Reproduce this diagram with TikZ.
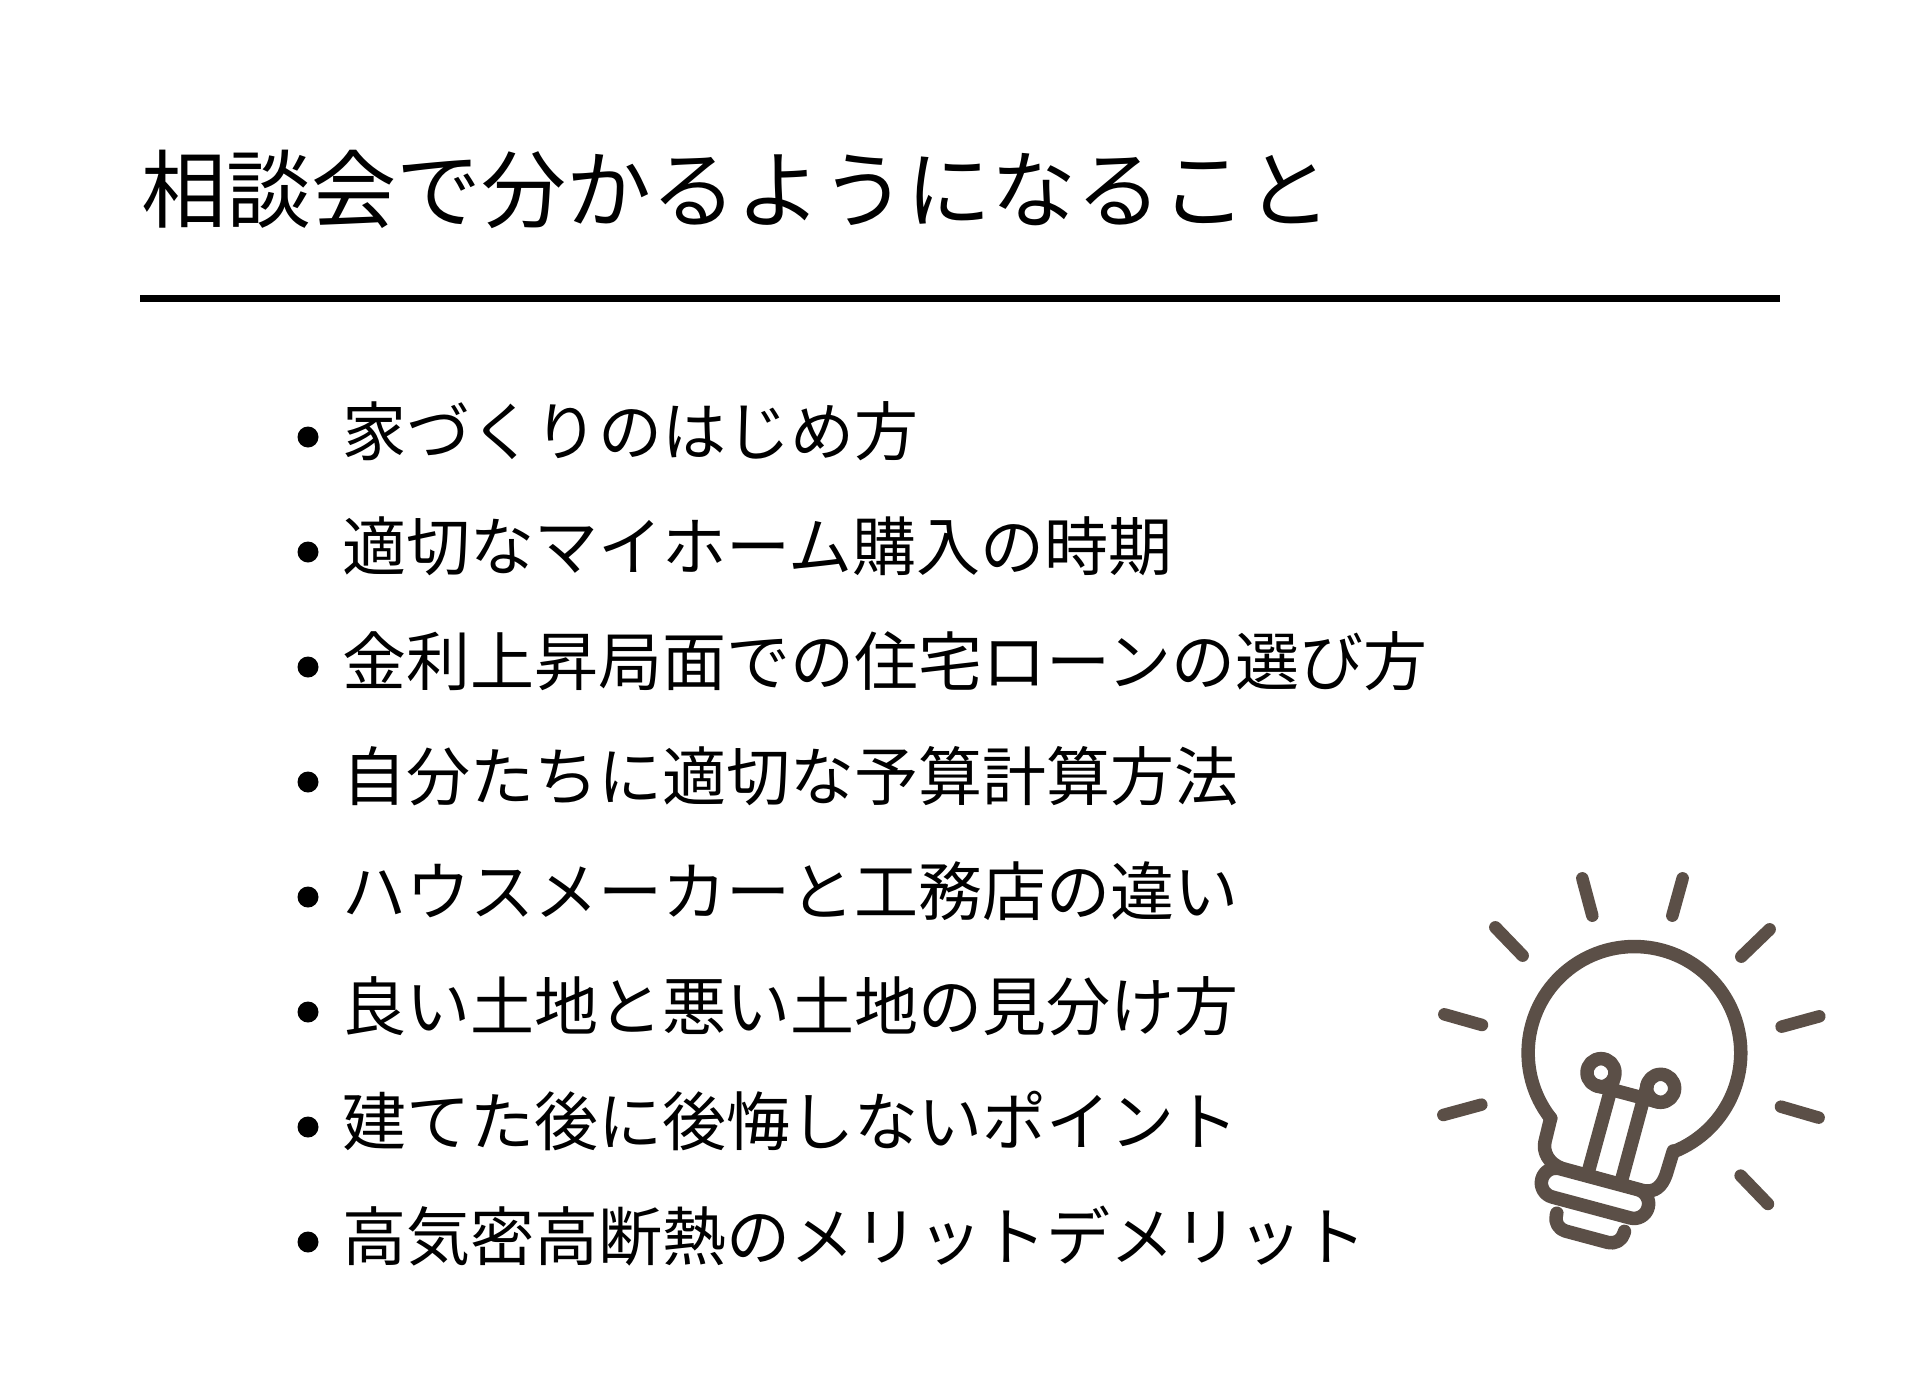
\documentclass[tikz,border=0pt]{standalone}
\usepackage{fontspec}
\setmainfont{Noto Sans CJK JP}
\definecolor{bulb}{HTML}{5B4F47}
\tikzset{
  heading/.style={anchor=west,inner sep=0pt,text height=74pt,text depth=11pt,font=\fontsize{85pt}{100pt}\selectfont,text=black},
  item/.style={anchor=west,inner sep=0pt,text height=55pt,text depth=8.6pt,font=\fontsize{64pt}{76pt}\selectfont,text=black},
  dot/.style={circle,fill=black,inner sep=0pt,minimum size=21pt},
  iconline/.style={draw=bulb,line width=13.5pt,line cap=round,line join=round},
  ray/.style={draw=bulb,line width=12.5pt,line cap=round}
}
\begin{document}
\begin{tikzpicture}[x=1pt,y=-1pt]
\useasboundingbox[fill=white] (0,0) rectangle (1920,1400);
\node[heading] (title) at (141,190) {相談会で分かるようになること};
\coordinate (ruleL) at (140,298.5);
\coordinate (ruleR) at (1780,298.5);
\draw[line width=6.5pt,black] (ruleL) -- (ruleR);
\foreach \n/\t [count=\i from 0] in {a/家づくりのはじめ方,b/適切なマイホーム購入の時期,c/金利上昇局面での住宅ローンの選び方,d/自分たちに適切な予算計算方法,e/ハウスメーカーと工務店の違い,f/良い土地と悪い土地の見分け方,g/建てた後に後悔しないポイント,h/高気密高断熱のメリットデメリット}{
  \node[dot] (dot\n) at (308,{437+115*\i}) {};
  \node[item] (item\n) at (342.5,{432+115*\i}) {\t};
}
\begin{scope}[shift={(1420,850)},x=0.3333pt,y=-0.3333pt]
  % rays
  \draw[ray] (487,85) -- (517,197);
  \draw[ray] (788,85) -- (757,197);
  \draw[ray] (226,232) -- (308,317);
  \draw[ray] (1049,238) -- (964,320);
  \draw[ray] (73,493) -- (186,525);
  \draw[ray] (1198,499) -- (1085,530);
  \draw[ray] (70,795) -- (184,764);
  \draw[ray] (1083,770) -- (1196,803);
  \draw[ray] (962,977) -- (1044,1062);
  % glass
  \draw[iconline] (392,805) arc[start angle=142,end angle=428.4,radius=319];
  \draw[iconline] (760,903) -- (738,975) .. controls (725,1010) and (705,1028) .. (670,1022)
     -- (425,955) .. controls (385,940) and (368,905) .. (375,875) -- (392,805);
  % filament
  \draw[iconline] (505,965) -- (583,680);
  \draw[iconline] (605,990) -- (682,705);
  \draw[iconline] (530,707) -- (710,755);
  \draw[iconline] (543,668) circle[radius=42];
  \draw[iconline] (722,715) circle[radius=42];
  % collars
  \begin{scope}[shift={(525,1030)},rotate=-15]
    \draw[iconline,rounded corners=14.6pt] (-165,-44) rectangle (165,44);
  \end{scope}
  \begin{scope}[shift={(512,1117)},rotate=-15]
    \draw[iconline,rounded corners=13pt] (-105,0) -- (-105,45) -- (105,45) -- (105,0);
  \end{scope}
\end{scope}
\end{tikzpicture}
\end{document}
